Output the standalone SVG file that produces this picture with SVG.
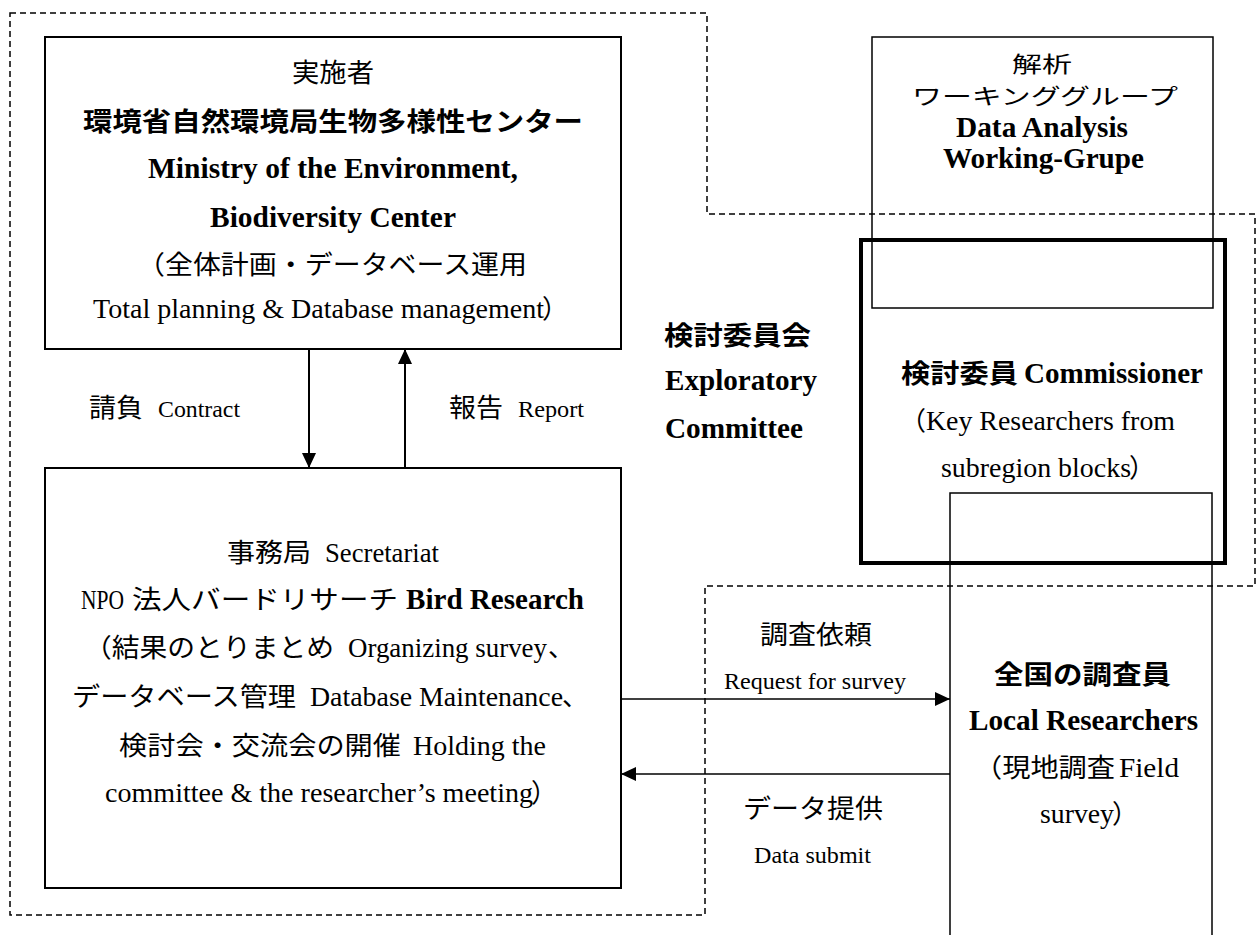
<svg xmlns="http://www.w3.org/2000/svg" width="1260" height="935" viewBox="0 0 1260 935">
<style>
.bg{fill:#fff}
.box{fill:none;stroke:#000;stroke-width:2}
.thin{fill:none;stroke:#000;stroke-width:1.5}
.thick{fill:none;stroke:#000;stroke-width:4}
.dash{fill:none;stroke:#000;stroke-width:1.5;stroke-dasharray:6 4}
.conn{fill:none;stroke:#000;stroke-width:2}
.conn2{fill:none;stroke:#000;stroke-width:1.5}
text{fill:#000}
.j{font-family:"Noto Sans CJK JP",sans-serif;font-size:26px;font-weight:normal}
.jw{font-family:"Noto Sans CJK JP",sans-serif;font-size:22px;font-weight:normal}
.jb{font-family:"Noto Sans CJK JP",sans-serif;font-size:26px;font-weight:bold}
.e{font-family:"Liberation Serif","Noto Sans CJK JP",serif;font-size:27px;font-weight:normal}
.eb{font-family:"Liberation Serif","Noto Sans CJK JP",serif;font-size:28.5px;font-weight:bold}
.es{font-family:"Liberation Serif","Noto Sans CJK JP",serif;font-size:24px;font-weight:normal}
</style>
<defs>
<marker id="ah" markerUnits="userSpaceOnUse" markerWidth="16" markerHeight="16" refX="15" refY="7" orient="auto">
<path d="M0,0 L15,7 L0,14 Z" fill="#000"/>
</marker>
</defs>
<rect class="bg" x="0" y="0" width="1260" height="935"/>

<g id="boundary">
<polygon class="dash" points="10,13 707,13 707,214 1255,214 1255,586 705,586 705,915 10,915"/>
</g>

<g id="node-ministry">
<rect class="box" x="45" y="37" width="576" height="312"/>
<text class="j" x="292" y="82" textLength="82" lengthAdjust="spacingAndGlyphs">実施者</text>
<text class="jb" x="83" y="131" textLength="500" lengthAdjust="spacingAndGlyphs">環境省自然環境局生物多様性センター</text>
<text class="eb" x="148" y="178" textLength="370" lengthAdjust="spacingAndGlyphs">Ministry of the Environment,</text>
<text class="eb" x="210" y="227" textLength="246" lengthAdjust="spacingAndGlyphs">Biodiversity Center</text>
<text class="j" x="137" y="274" textLength="390" lengthAdjust="spacingAndGlyphs">（全体計画・データベース運用</text>
<text class="e" y="318"><tspan x="93" textLength="451" lengthAdjust="spacingAndGlyphs">Total planning &amp; Database management</tspan><tspan class="j" x="542">）</tspan></text>
</g>

<g id="node-secretariat">
<rect class="box" x="45" y="468" width="576" height="420"/>
<text y="562"><tspan class="j" x="227" textLength="84" lengthAdjust="spacingAndGlyphs">事務局</tspan><tspan class="e" x="325" textLength="114" lengthAdjust="spacingAndGlyphs">Secretariat</tspan></text>
<text y="609"><tspan class="e" x="81" textLength="43" lengthAdjust="spacingAndGlyphs">NPO</tspan><tspan class="j" x="132" textLength="266" lengthAdjust="spacingAndGlyphs">法人バードリサーチ</tspan><tspan class="eb" x="406" textLength="178" lengthAdjust="spacingAndGlyphs">Bird Research</tspan></text>
<text y="657"><tspan class="j" x="84" textLength="250" lengthAdjust="spacingAndGlyphs">（結果のとりまとめ</tspan><tspan class="e" x="348" textLength="199" lengthAdjust="spacingAndGlyphs">Organizing survey</tspan><tspan class="j" x="548">、</tspan></text>
<text y="706"><tspan class="j" x="72" textLength="224" lengthAdjust="spacingAndGlyphs">データベース管理</tspan><tspan class="e" x="310" textLength="253" lengthAdjust="spacingAndGlyphs">Database Maintenance</tspan><tspan class="j" x="562">、</tspan></text>
<text y="755"><tspan class="j" x="119" textLength="282" lengthAdjust="spacingAndGlyphs">検討会・交流会の開催</tspan><tspan class="e" x="413" textLength="133" lengthAdjust="spacingAndGlyphs">Holding the</tspan></text>
<text y="802"><tspan class="e" x="105" textLength="428" lengthAdjust="spacingAndGlyphs">committee &amp; the researcher’s meeting</tspan><tspan class="j" x="531">）</tspan></text>
</g>

<g id="node-wg">
<rect class="thin" x="872" y="37" width="341" height="271"/>
<text class="jw" x="1012" y="72" textLength="60" lengthAdjust="spacingAndGlyphs">解析</text>
<text class="jw" x="912" y="104" textLength="266" lengthAdjust="spacingAndGlyphs">ワーキンググループ</text>
<text class="eb" x="956" y="137" textLength="172" lengthAdjust="spacingAndGlyphs">Data Analysis</text>
<text class="eb" x="943" y="168" textLength="201" lengthAdjust="spacingAndGlyphs">Working-Grupe</text>
</g>

<g id="node-committee-label">
<text class="jb" x="664" y="345" textLength="147" lengthAdjust="spacingAndGlyphs">検討委員会</text>
<text class="eb" x="665" y="390" textLength="152" lengthAdjust="spacingAndGlyphs">Exploratory</text>
<text class="eb" x="665" y="438" textLength="138" lengthAdjust="spacingAndGlyphs">Committee</text>
</g>

<g id="node-commissioner">
<rect class="thick" x="861" y="240" width="364" height="323"/>
<text y="383"><tspan class="jb" x="901" textLength="117" lengthAdjust="spacingAndGlyphs">検討委員</tspan><tspan class="eb" x="1024" textLength="179" lengthAdjust="spacingAndGlyphs">Commissioner</tspan></text>
<text y="430"><tspan class="j" x="900">（</tspan><tspan class="e" x="926" textLength="249" lengthAdjust="spacingAndGlyphs">Key Researchers from</tspan></text>
<text y="477"><tspan class="e" x="941" textLength="190" lengthAdjust="spacingAndGlyphs">subregion blocks</tspan><tspan class="j" x="1129">）</tspan></text>
</g>

<g id="node-local">
<rect class="thin" x="950" y="493" width="262" height="470"/>
<text class="jb" x="994" y="684" textLength="177" lengthAdjust="spacingAndGlyphs">全国の調査員</text>
<text class="eb" x="969" y="730" textLength="229" lengthAdjust="spacingAndGlyphs">Local Researchers</text>
<text y="777"><tspan class="j" x="974" textLength="141" lengthAdjust="spacingAndGlyphs">（現地調査</tspan><tspan class="e" x="1119" textLength="60" lengthAdjust="spacingAndGlyphs">Field</tspan></text>
<text y="823"><tspan class="e" x="1040" textLength="74" lengthAdjust="spacingAndGlyphs">survey</tspan><tspan class="j" x="1112">）</tspan></text>
</g>

<g id="connectors">
<line class="conn" x1="309" y1="349" x2="309" y2="468" marker-end="url(#ah)"/>
<line class="conn" x1="405" y1="468" x2="405" y2="349" marker-end="url(#ah)"/>
<line class="conn2" x1="621" y1="699" x2="950" y2="699" marker-end="url(#ah)"/>
<line class="conn2" x1="950" y1="774" x2="621" y2="774" marker-end="url(#ah)"/>
<text y="417"><tspan class="j" x="89" textLength="54" lengthAdjust="spacingAndGlyphs">請負</tspan><tspan class="es" x="158" textLength="82" lengthAdjust="spacingAndGlyphs">Contract</tspan></text>
<text y="417"><tspan class="j" x="449" textLength="54" lengthAdjust="spacingAndGlyphs">報告</tspan><tspan class="es" x="518" textLength="66" lengthAdjust="spacingAndGlyphs">Report</tspan></text>
<text class="j" x="760" y="644" textLength="112" lengthAdjust="spacingAndGlyphs">調査依頼</text>
<text class="es" x="724" y="689" textLength="182" lengthAdjust="spacingAndGlyphs">Request for survey</text>
<text class="j" x="743" y="818" textLength="140" lengthAdjust="spacingAndGlyphs">データ提供</text>
<text class="es" x="754" y="863" textLength="117" lengthAdjust="spacingAndGlyphs">Data submit</text>
</g>
</svg>
